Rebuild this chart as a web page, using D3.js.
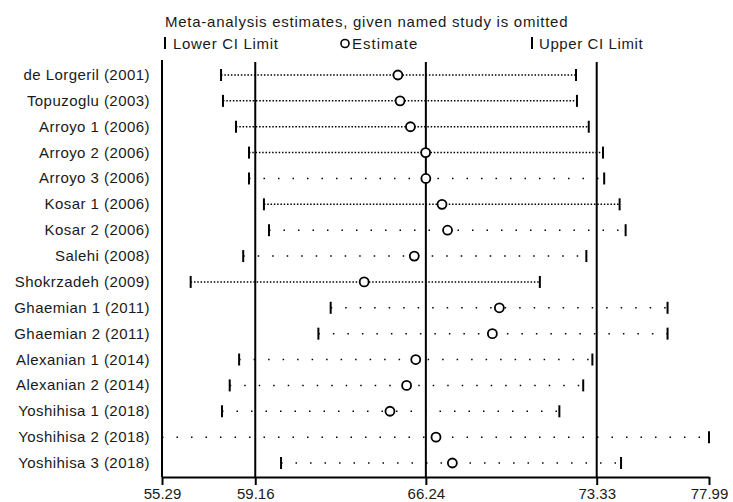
<!DOCTYPE html>
<html><head><meta charset="utf-8">
<script src="https://cdn.jsdelivr.net/npm/d3@7"></script>
<style>body{margin:0;background:#fff;} svg{display:block;} text{font-family:"Liberation Sans",Arial,sans-serif;fill:#1a1a1a;}</style>
</head><body><svg id="c" width="733" height="502"></svg>
<script>
const studies = ["de Lorgeril (2001)","Topuzoglu (2003)","Arroyo 1 (2006)","Arroyo 2 (2006)","Arroyo 3 (2006)","Kosar 1 (2006)","Kosar 2 (2006)","Salehi (2008)","Shokrzadeh (2009)","Ghaemian 1 (2011)","Ghaemian 2 (2011)","Alexanian 1 (2014)","Alexanian 2 (2014)","Yoshihisa 1 (2018)","Yoshihisa 2 (2018)","Yoshihisa 3 (2018)"];
const lowerCI = [57.74,57.82,58.36,58.90,58.90,59.52,59.73,58.66,56.48,62.29,61.78,58.49,58.10,57.78,55.29,60.23];
const estimate = [65.08,65.17,65.60,66.23,66.24,66.91,67.14,65.76,63.68,69.29,69.00,65.82,65.44,64.75,66.66,67.34];
const upperCI = [72.47,72.51,73.00,73.59,73.64,74.28,74.53,72.90,70.97,76.27,76.27,73.15,72.77,71.78,77.99,74.34];
const overall = {lower:59.16, est:66.24, upper:73.33};
const tickValues = [55.29,59.16,66.24,73.33,77.99];
const title = "Meta-analysis estimates, given named study is omitted";

const svg = d3.select("#c");
const x = d3.scaleLinear().domain([55.29,77.99]).range([162,709]);
const y = d3.scalePoint().domain(studies).range([75,463]);
const axisY = 477;
const denseRows = new Set([0,1,2,3,5,8]);

// title & legend
svg.append("text").attr("x",165).attr("y",27).style("font-size","15px").style("letter-spacing","0.75px").text(title);
svg.append("line").attr("x1",165).attr("x2",165).attr("y1",37).attr("y2",49).attr("stroke","#000").attr("stroke-width",2);
svg.append("text").attr("x",173).attr("y",49).style("font-size","15px").style("letter-spacing","0.7px").text("Lower CI Limit");
svg.append("circle").attr("cx",345).attr("cy",43.5).attr("r",4).attr("fill","none").attr("stroke","#000").attr("stroke-width",1.6);
svg.append("text").attr("x",352).attr("y",49).style("font-size","15px").style("letter-spacing","1px").text("Estimate");
svg.append("line").attr("x1",532).attr("x2",532).attr("y1",37).attr("y2",49).attr("stroke","#000").attr("stroke-width",2);
svg.append("text").attr("x",539).attr("y",49).style("font-size","15px").style("letter-spacing","0.6px").text("Upper CI Limit");

// left frame line
svg.append("line").attr("x1",x(55.29)).attr("x2",x(55.29)).attr("y1",60).attr("y2",axisY).attr("stroke","#000").attr("stroke-width",2);
// reference lines
[overall.lower, overall.est, overall.upper].forEach(v=>{
  svg.append("line").attr("x1",x(v)).attr("x2",x(v)).attr("y1",62).attr("y2",axisY).attr("stroke","#000").attr("stroke-width",2);
});

// labels
svg.append("g").selectAll("text").data(studies).join("text")
  .attr("x",150).attr("y",d=>y(d)+5).attr("text-anchor","end").style("font-size","15px").style("letter-spacing","0.45px").text(d=>d);

// rows
const rows = studies.map((s,i)=>({s,i,lo:lowerCI[i],est:estimate[i],hi:upperCI[i]}));
const g = svg.append("g");
g.selectAll("line.ci").data(rows).join("line").attr("class","ci")
  .attr("x1",d=>x(d.lo)).attr("x2",d=>x(d.hi)).attr("y1",d=>y(d.s)).attr("y2",d=>y(d.s))
  .attr("stroke","#000").attr("stroke-width",1.5)
  .attr("stroke-dasharray",d=>denseRows.has(d.i)?"1.5,1.8":"1.5,13");
g.selectAll("line.lo").data(rows).join("line").attr("class","lo")
  .attr("x1",d=>x(d.lo)).attr("x2",d=>x(d.lo)).attr("y1",d=>y(d.s)-6).attr("y2",d=>y(d.s)+6)
  .attr("stroke","#000").attr("stroke-width",2);
g.selectAll("line.hi").data(rows).join("line").attr("class","hi")
  .attr("x1",d=>x(d.hi)).attr("x2",d=>x(d.hi)).attr("y1",d=>y(d.s)-6).attr("y2",d=>y(d.s)+6)
  .attr("stroke","#000").attr("stroke-width",2);
g.selectAll("circle").data(rows).join("circle")
  .attr("cx",d=>x(d.est)).attr("cy",d=>y(d.s)).attr("r",4.5)
  .attr("fill","#fff").attr("stroke","#000").attr("stroke-width",1.8);

// axis
const ax = svg.append("g").attr("transform",`translate(0,${axisY})`)
  .call(d3.axisBottom(x).tickValues(tickValues).tickFormat(d3.format(".2f")).tickSizeOuter(0).tickSizeInner(8).tickPadding(3));
ax.select(".domain").attr("stroke","#000").attr("stroke-width",2);
ax.selectAll(".tick line").attr("stroke","#000").attr("stroke-width",2);
ax.selectAll(".tick text").style("font-size","15px").style("font-family","'Liberation Sans',Arial,sans-serif").attr("fill","#1a1a1a");
</script></body></html>
